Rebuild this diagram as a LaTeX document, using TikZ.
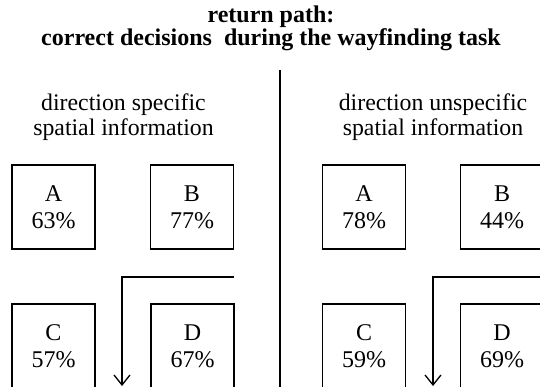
\documentclass[tikz,border=0pt]{standalone}
\usepackage{fontspec}
\setmainfont{Liberation Serif}
\usetikzlibrary{arrows.meta,positioning}

\begin{document}
\begin{tikzpicture}[x=1pt,y=-1pt,
		room/.style={draw=black,line width=1.2pt,minimum width=83pt,minimum height=84pt,align=center,inner sep=0pt,font=\fontsize{24}{27}\selectfont},
		head/.style={align=center,font=\fontsize{23.8}{25}\selectfont},
		route/.style={line width=1.3pt,-{Straight Barb[length=10pt,width=16pt,line width=1.3pt]}}]
	\clip (0,0) rectangle (540,387);
	\useasboundingbox (0,0) rectangle (540,387);
	\node[align=center,font=\bfseries\fontsize{24}{23}\selectfont] (title) at (271,28.5) {return path:\\correct decisions\ \ during the wayfinding task};
	\coordinate (divtop) at (280,70);
	\coordinate (divbot) at (280,390);
	\draw[line width=2pt] (divtop) -- (divbot);
%	left: direction specific
	\node[head] (lhead) at (123.5,117) {direction specific\\spatial information};
	\node[room] (lA) at (53.5,207) {A\\63\%};
	\node[room] (lB) at (192,207) {B\\77\%};
	\node[room] (lC) at (53.5,346) {C\\57\%};
	\node[room] (lD) at (192.5,346) {D\\67\%};
	\coordinate (lstart) at (234,277);
	\coordinate (lturn) at (122,277);
	\coordinate (lend) at (122,386);
	\draw[route] (lstart) -- (lturn) -- (lend);
%	right: direction unspecific
	\node[head] (rhead) at (433,117) {direction unspecific\\spatial information};
	\node[room] (rA) at (364,207) {A\\78\%};
	\node[room] (rB) at (502,207) {B\\44\%};
	\node[room] (rC) at (364,346) {C\\59\%};
	\node[room] (rD) at (502,346) {D\\69\%};
	\coordinate (rstart) at (542,277);
	\coordinate (rturn) at (433,277);
	\coordinate (rend) at (433,386);
	\draw[route] (rstart) -- (rturn) -- (rend);
\end{tikzpicture}
\end{document}
